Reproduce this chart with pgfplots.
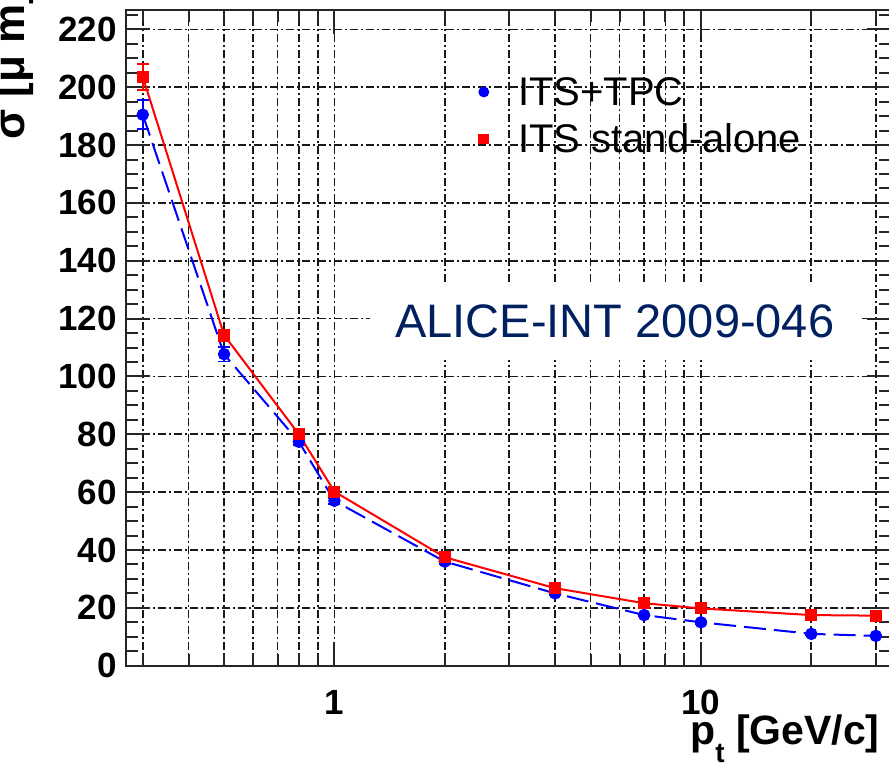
\documentclass[border=0pt]{standalone}
\usepackage{fontspec}
\setmainfont{Liberation Sans}
\usepackage{pgfplots}
\pgfplotsset{compat=1.18}
\definecolor{navy}{RGB}{0,32,96}
\begin{document}
\begin{tikzpicture}
\useasboundingbox (-63pt,-48.65pt) rectangle (381.5pt,332.85pt);
\begin{axis}[
  at={(0pt,0pt)}, anchor=south west,
  scale only axis, width=382.5pt, height=327.85pt,
  xmode=log, xmin=0.27, xmax=33, ymin=0, ymax=226.7,
  xtick={1,10}, xticklabels={1,10},
  minor xtick={0.3,0.4,0.5,0.6,0.7,0.8,0.9,2,3,4,5,6,7,8,9,20,30},
  ytick={0,20,...,220},
  yticklabels={0,20,40,60,80,100,120,140,160,180,200,220},
  minor ytick={5,10,...,225},
  xmajorgrids=true, xminorgrids=true, ymajorgrids=true,
  grid style={black!90, line width=0.85pt, dash pattern=on 4pt off 1.5pt on 1pt off 1.5pt},
  minor grid style={black!90, line width=0.85pt, dash pattern=on 4pt off 1.5pt on 1pt off 1.5pt},
  axis line style={line width=1pt, black!85},
  tick style={black!85, line width=1pt},
  major tick length=12pt, minor tick length=6pt,
  ticklabel style={font=\fontsize{17.5}{17.5}\selectfont\bfseries, inner sep=0pt},
  xticklabel shift=12pt, yticklabel shift=4.5pt,
  xlabel={p\raisebox{-0.42em}{\fontsize{14}{14}\selectfont t} [GeV/c]},
  xlabel style={at={(rel axis cs:0.9856,-0.1209)}, anchor=base east, inner sep=0pt,
    font=\fontsize{20.5}{20.5}\selectfont\bfseries},
  ylabel={σ [μ m]},
  ylabel style={at={(rel axis cs:-0.1333,0.8017)}, anchor=base west, inner sep=0pt,
    font=\fontsize{22}{22}\selectfont\bfseries},
  legend style={at={(rel axis cs:0.462,0.897)}, anchor=north west, draw=none, fill=none,
    inner sep=0pt, outer sep=0pt, font=\fontsize{20}{20}\selectfont,
    nodes={inner sep=0pt}, row sep=7.75pt,
    /tikz/every odd column/.append style={column sep=15pt}},
  legend cell align=left,
  legend image code/.code={\draw[#1, solid, mark size=2.2pt] plot coordinates {(0pt,0.5pt)};},
]
\addplot[blue, line width=1pt, dash pattern=on 11pt off 4pt,
  mark=*, mark size=2.6pt, mark options={solid, fill=blue},
  error bars/.cd, y dir=both, y explicit,
  error bar style={line width=0.8pt, solid, blue},
  error mark options={rotate=90, mark size=3pt, line width=0.8pt, blue}]
  coordinates {
  (0.3,190.5) +- (0,5)
  (0.5,107.7) +- (0,2.5)
  (0.8,77.4) +- (0,1.2)
  (1,57.0) +- (0,1)
  (2,36.0) +- (0,0.8)
  (4,25.0) +- (0,0.6)
  (7,17.5) +- (0,0.5)
  (10,15.0) +- (0,0.5)
  (20,11.0) +- (0,0.4)
  (30,10.3) +- (0,0.4)
  };
\addlegendentry{ITS+TPC}
\addplot[red, line width=1pt,
  mark=square*, mark size=2.5pt, mark options={solid, fill=red},
  error bars/.cd, y dir=both, y explicit,
  error bar style={line width=0.8pt, solid, red},
  error mark options={rotate=90, mark size=3pt, line width=0.8pt, red}]
  coordinates {
  (0.3,203.6) +- (0,4.5)
  (0.5,114.3) +- (0,2)
  (0.8,80.0) +- (0,1.2)
  (1,60.2) +- (0,1)
  (2,37.5) +- (0,0.8)
  (4,26.8) +- (0,0.6)
  (7,21.6) +- (0,0.5)
  (10,19.8) +- (0,0.5)
  (20,17.5) +- (0,0.4)
  (30,17.3) +- (0,0.4)
  };
\addlegendentry{ITS stand-alone}
\node[fill=white, inner sep=0pt, minimum width=245pt, minimum height=39pt,
  text=navy, font=\fontsize{23.5}{23.5}\selectfont]
  at (rel axis cs:0.639,0.5257) {ALICE-INT 2009-046};
\end{axis}
\end{tikzpicture}
\end{document}
